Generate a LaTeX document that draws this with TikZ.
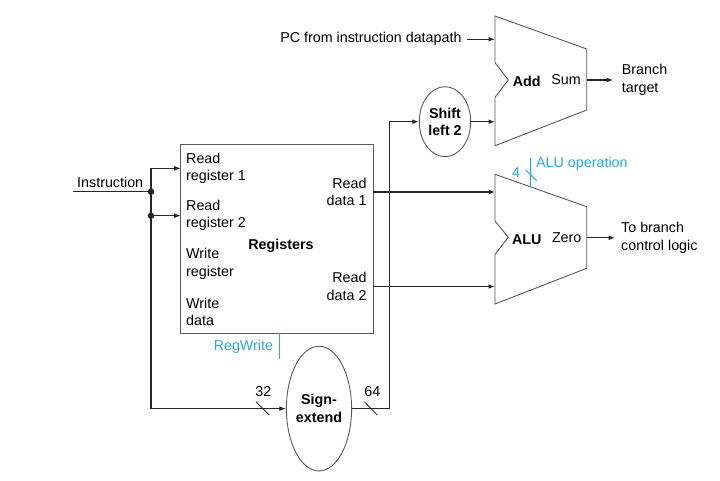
\documentclass[tikz,border=0pt]{standalone}
\usepackage{fontspec}
\setmainfont{Liberation Sans}
\usetikzlibrary{arrows.meta,shapes.geometric}
\definecolor{cblue}{RGB}{41,168,224}
\begin{document}
\begin{tikzpicture}[x=1pt,y=-1pt,
  font=\fontsize{14.3}{17.5}\selectfont,
  wire/.style={line width=1.05pt, draw=black!85},
  arr/.style={wire,-{Latex[length=6.5pt,width=4.8pt]}},
  unit/.style={draw=black!65, line width=0.9pt},
  lbl/.style={inner sep=0pt, align=left},
  bl/.style={font=\fontsize{14.3}{17.5}\selectfont\bfseries},
  ctl/.style={draw=cblue, line width=1pt},
  dot/.style={fill=black!85}]
\useasboundingbox (0,0) rectangle (720,481);

% Add unit
\draw[unit] (495,16) -- (586.7,49) -- (586.7,110) -- (495,145.7) -- (495,97.3) -- (508.3,80) -- (495,62.7) -- cycle;
\coordinate (addA) at (495,39.3);
\coordinate (addB) at (495,121.7);
\coordinate (addout) at (586.7,80);
\node[lbl,bl] (addl) at (526.7,81) {Add};
\node[lbl] (sum) at (566,80) {Sum};

% ALU unit
\draw[unit] (495,174.3) -- (586.7,206.7) -- (586.7,268.3) -- (495,304) -- (495,254.3) -- (508.3,237.3) -- (495,221) -- cycle;
\coordinate (aluA) at (495,192);
\coordinate (aluB) at (495,286.5);
\coordinate (aluout) at (586.7,237.8);
\coordinate (aluop) at (530,186.7);
\coordinate (aluoptop) at (530,158.3);
\node[lbl,bl] (alul) at (526.7,239.3) {ALU};
\node[lbl] (zero) at (566.7,238) {Zero};

% Registers
\node[unit, minimum width=192.6pt, minimum height=188.6pt, inner sep=0pt] (regs) at (277,239) {};
\node[lbl,bl] (regl) at (281,246) {Registers};
\node[lbl,anchor=west] (rr1) at (186,168.3) {Read\\register 1};
\node[lbl,anchor=west] (rr2) at (186,215.5) {Read\\register 2};
\node[lbl,anchor=west] (wr) at (186,264) {Write\\register};
\node[lbl,anchor=west] (wd) at (186,312) {Write\\data};
\node[lbl,anchor=east,align=right] (rd1l) at (366.7,192) {Read\\data 1};
\node[lbl,anchor=east,align=right] (rd2l) at (366.7,286.3) {Read\\data 2};
\coordinate (rr1p) at (180.7,168.3);
\coordinate (rr2p) at (180.7,215.7);
\coordinate (rd1) at (373.3,192);
\coordinate (rd2) at (373.3,286.5);
\coordinate (rwp) at (279,333.3);
\coordinate (rwend) at (279,359.3);

% Ellipses
\node[unit, ellipse, minimum width=51.4pt, minimum height=70pt, inner sep=0pt, align=center, bl] (sl) at (445,121.7) {Shift\\left 2};
\node[unit, ellipse, minimum width=63.4pt, minimum height=124.7pt, inner sep=0pt, align=center, bl] (se) at (319,408.6) {Sign-\\extend};

% texts
\node[lbl,anchor=east] (pc) at (461.7,39.3) {PC from instruction datapath};
\node[lbl,anchor=west] (bt) at (621.7,80) {Branch\\target};
\node[lbl,anchor=west] (tb) at (621,237.8) {To branch\\control logic};
\node[lbl,anchor=west] (instr) at (77,182.3) {Instruction};
\node[lbl,anchor=west,text=cblue] (aluopl) at (536,164.3) {ALU operation};
\node[lbl,text=cblue] (four) at (516,172.7) {4};
\node[lbl,anchor=east,text=cblue] (rwl) at (273.3,347.3) {RegWrite};
\node[lbl] (n32) at (263.3,391.7) {32};
\node[lbl] (n64) at (372.3,391.7) {64};

% junctions
\coordinate (instrin) at (72.7,191.7);
\coordinate (j1) at (151,191.7);
\coordinate (j2) at (151,215.7);
\coordinate (bustop) at (389.3,121.7);

% wires
\draw[arr] ([xshift=5pt]pc.east) -- (addA);
\draw[arr] (addout) -- ([xshift=-8.5pt]bt.west);
\draw[arr] (aluout) -- ([xshift=-6pt]tb.west);
\draw[wire] (instrin) -- (j1);
\draw[arr] (j1) |- (rr1p);
\draw[arr] (j2) -- (rr2p);
\draw[wire] (j1) -- (j2);
\draw[arr] (j2) |- (se.west);
\draw[wire] (se.east) -| (bustop);
\draw[arr] (bustop) -- (sl.west);
\draw[arr] (sl.east) -- (addB);
\draw[arr] (rd1) -- (aluA);
\draw[arr] (rd2) -- (aluB);
\fill[dot] (j1) circle (3.3pt);
\fill[dot] (j2) circle (3.3pt);

% bus width slashes
\draw[wire, line width=0.8pt] (256,401.7) -- (269.3,415);
\draw[wire, line width=0.8pt] (364.3,401.7) -- (377.3,415);

% control lines
\draw[ctl] (rwp) -- (rwend);
\draw[ctl] (aluoptop) -- (aluop);
\draw[ctl] (525.7,170) -- (536.7,180.7);
\end{tikzpicture}
\end{document}
